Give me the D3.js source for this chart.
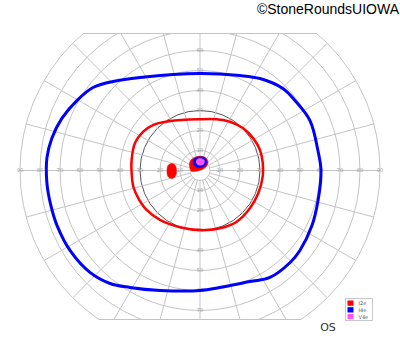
<!DOCTYPE html>
<html>
<head>
<meta charset="utf-8">
<script src="https://cdn.jsdelivr.net/npm/d3@7"></script>
<style>
  body { margin: 0; background: #fff; }
  svg { display: block; font-family: "DejaVu Sans", sans-serif; }
</style>
</head>
<body>
<script>
// isopters as [meridian deg, eccentricity deg]
const i4eOuter = [
  [0, 60.5], [9.6, 59.8], [24.4, 60.4], [36.4, 59], [44.7, 58.3], [56.9, 54.9],
  [67.2, 51.5], [90, 48.5], [122.8, 55.3], [134.3, 62.2], [142.2, 67.7],
  [150.4, 70.8], [159.2, 73.8], [167.6, 75.8], [175.3, 76.8], [184.7, 76.8],
  [193, 76.6], [201, 76.6], [211.6, 76.3], [222.8, 75], [231.5, 72.2], [239, 68.2],
  [251.6, 63.2], [270, 60], [294.2, 60.9], [303.2, 63.9], [314.4, 64.4],
  [321.3, 64], [333.8, 62.4], [345.7, 60.9]
];
const i2eOuter = [
  [6.6, 31.6], [18.9, 31.7], [31.1, 31.1], [44.3, 30.2], [58.4, 28.6],
  [71.9, 26.9], [90, 25.6], [121.2, 28.9], [136, 32.7], [145.6, 34.4],
  [157.1, 35.3], [171.3, 34.6], [182.1, 34.2], [193.7, 34.3], [204.3, 33.8],
  [216.5, 33.2], [231, 31.8], [250.6, 30.1], [270, 29.8], [289.1, 30.6],
  [305.6, 31.5], [322.9, 31.3], [338.6, 31.3], [354.4, 31.5]
];
const blindSpot = [
  [166.2, 14.7], [167.6, 12.8], [178.8, 11.75], [192.7, 12.55],
  [195.9, 14.56], [190.6, 16.3], [180.9, 16.5], [171.1, 16.2]
];
const i2eCentral = [
  [166, 5.15], [144.5, 6.45], [124.8, 7.0], [102.1, 7.16], [77.9, 7.16],
  [58.7, 6.73], [43.2, 5.48], [30.3, 3.47], [26.6, 0.56], [191.3, 2.55],
  [183.2, 4.51]
];
const i4eCentral = [
  [133, 5.13], [117.6, 6.49], [98.4, 6.82], [77.5, 6.91], [61.4, 6.26],
  [49.1, 4.96], [45, 2.83], [108.4, 1.58], [141.3, 3.2]
];
const v4eCentral = [
  [112.8, 5.15], [99.5, 6.08], [80.5, 6.08], [65.8, 5.48], [58.4, 3.82],
  [78.7, 2.55], [116.6, 3.35]
];

const rings = [10, 20, 30, 40, 50, 60, 70, 80, 90];
const meridians = d3.range(0, 360, 15);
const ringLabels = [10, 20, 30, 40, 50, 60, 70, 80, 90];
const legendNames = ['I2e', 'I4e', 'V4e'];
const legendColors = ['#ff0000', '#0000ff', '#ff55ff'];

const width = 400;
const height = 352;
const cx = 200, cy = 170.5;
const clipTop = 33, clipBottom = 319;

const r = d3.scaleLinear().domain([0, 90]).range([0, 180]);

function px(d) {
  const a = d[0] * Math.PI / 180;
  return [cx + r(d[1]) * Math.cos(a), cy - r(d[1]) * Math.sin(a)];
}

let svg = d3.select('body').append('svg')
  .attr('width', width)
  .attr('height', height);

svg.append('clipPath').attr('id', 'field')
  .append('rect')
  .attr('x', 0).attr('y', clipTop)
  .attr('width', width).attr('height', clipBottom - clipTop);

let grid = svg.append('g').attr('clip-path', 'url(#field)');

grid.selectAll('circle.ring')
  .data([5].concat(rings))
  .enter().append('circle')
  .attr('class', 'ring')
  .attr('cx', cx).attr('cy', cy)
  .attr('r', d => r(d))
  .attr('fill', 'none')
  .attr('stroke', d => d === 30 ? '#555' : '#c4c4c4')
  .attr('stroke-width', 1);

grid.selectAll('line.meridian')
  .data(meridians)
  .enter().append('line')
  .attr('class', 'meridian')
  .attr('x1', d => px([d, 5])[0]).attr('y1', d => px([d, 5])[1])
  .attr('x2', d => px([d, 90])[0]).attr('y2', d => px([d, 90])[1])
  .attr('stroke', '#c4c4c4')
  .attr('stroke-width', 1);

// flat top / bottom edges where the 90 ring is cut
[clipTop, clipBottom].forEach(function(y) {
  const half = Math.sqrt(r(90) * r(90) - (y - cy) * (y - cy));
  svg.append('line')
    .attr('x1', cx - half).attr('x2', cx + half)
    .attr('y1', y + 0.5).attr('y2', y + 0.5)
    .attr('stroke', '#c4c4c4');
});

// ring labels on the four axes, only those inside the field
let labels = svg.append('g')
  .attr('font-size', 5)
  .attr('fill', '#9a9a9a')
  .attr('text-anchor', 'middle')
  .attr('dominant-baseline', 'middle');
[0, 90, 180, 270].forEach(function(m) {
  const shown = ringLabels.filter(function(d) {
    const y = px([m, d])[1];
    return y > clipTop + 2 && y < clipBottom - 2;
  });
  labels.selectAll(null)
    .data(shown)
    .enter().append('text')
    .attr('x', d => px([m, d])[0])
    .attr('y', d => px([m, d])[1])
    .text(d => d);
});

const closed = d3.line().curve(d3.curveCatmullRomClosed.alpha(0.5));

svg.append('path')
  .attr('d', closed(i2eOuter.map(px)))
  .attr('fill', 'none').attr('stroke', '#ff0000').attr('stroke-width', 2.5);

svg.append('path')
  .attr('d', closed(i4eOuter.map(px)))
  .attr('fill', 'none').attr('stroke', '#0000ff').attr('stroke-width', 3);

svg.append('path')
  .attr('d', closed(blindSpot.map(px)))
  .attr('fill', '#ff0000').attr('stroke', '#ff0000').attr('stroke-width', 0.5);

svg.append('path')
  .attr('d', closed(i2eCentral.map(px)))
  .attr('fill', '#ff0000').attr('stroke', '#ff0000').attr('stroke-width', 0.5);

svg.append('path')
  .attr('d', closed(i4eCentral.map(px)))
  .attr('fill', '#0000ff').attr('stroke', '#0000ff').attr('stroke-width', 0.5);

svg.append('path')
  .attr('d', closed(v4eCentral.map(px)))
  .attr('fill', '#ff55ff');

// eye and legend
svg.append('text')
  .attr('x', 328).attr('y', 331)
  .attr('text-anchor', 'middle')
  .attr('font-size', 11)
  .attr('fill', '#333')
  .text('OS');

let legend = svg.append('g').attr('transform', 'translate(345.5,298.5)');
legend.append('rect')
  .attr('width', 27).attr('height', 22)
  .attr('fill', '#fff').attr('stroke', '#bbb').attr('stroke-width', 0.8);
legend.selectAll('rect.sw')
  .data(legendNames)
  .enter().append('rect')
  .attr('class', 'sw')
  .attr('x', 2).attr('y', (d, i) => 2 + i * 6.7)
  .attr('width', 6).attr('height', 5.3)
  .attr('fill', (d, i) => legendColors[i]);
legend.selectAll('text')
  .data(legendNames)
  .enter().append('text')
  .attr('x', 13).attr('y', (d, i) => 6.6 + i * 6.7)
  .attr('font-size', 5)
  .attr('fill', '#555')
  .text(d => d);

svg.append('text')
  .attr('x', 399).attr('y', 14)
  .attr('text-anchor', 'end')
  .attr('font-family', '"Liberation Sans", Arial, sans-serif')
  .attr('font-size', 14)
  .attr('fill', '#000')
  .text('\u00a9StoneRoundsUIOWA');
</script>
</body>
</html>
